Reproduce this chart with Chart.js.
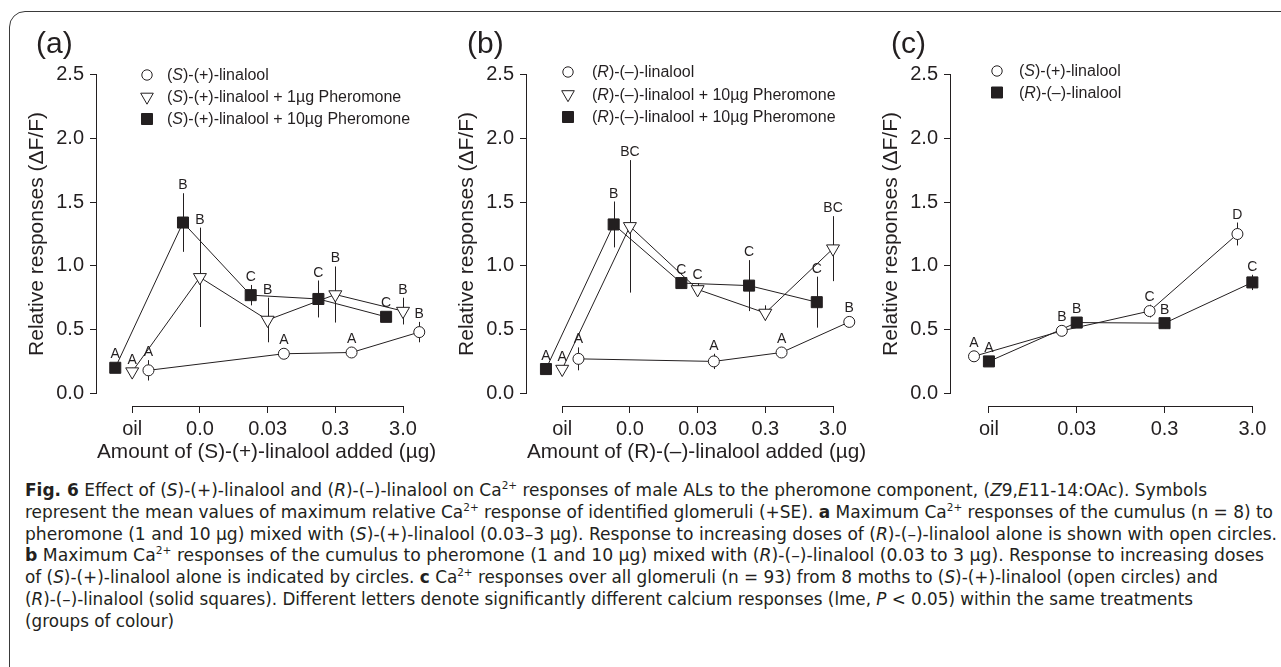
<!DOCTYPE html>
<html>
<head>
<meta charset="utf-8">
<script src="https://cdn.jsdelivr.net/npm/chart.js@4.4.0/dist/chart.umd.min.js"></script>
<style>
  body { margin: 0; background: #fff; width: 1281px; height: 667px; overflow: hidden; position: relative;
         font-family: 'Liberation Sans', Arial, sans-serif; color: #231f20; }
  .frame { position: absolute; left: 9px; top: 11px; width: 1320px; height: 720px;
           border: 1.5px solid #3a3a3a; border-radius: 16px; }
  canvas { position: absolute; top: 0; }
  .tag { position: absolute; top: 28px; font-size: 30px; line-height: 30px; }
  .caption { position: absolute; left: 25px; top: 480px; font-family: 'DejaVu Sans Condensed', 'Liberation Sans Narrow', 'Open Sans', sans-serif;
             font-size: 17px; color: #231f20; }
  .caption div { white-space: nowrap; height: 21.8px; line-height: 21.8px; transform-origin: 0 50%; width: max-content; }
  .caption sup { font-size: 10.5px; vertical-align: 7px; line-height: 0; }
</style>
</head>
<body>
<div class="frame"></div>
<canvas id="pa" width="445" height="470" style="left:0"></canvas>
<canvas id="pb" width="445" height="470" style="left:430px"></canvas>
<canvas id="pc" width="421" height="470" style="left:860px"></canvas>
<div class="tag" style="left:36px">(a)</div>
<div class="tag" style="left:467px">(b)</div>
<div class="tag" style="left:891px">(c)</div>

<div class="caption" id="caption">
  <div data-w="1182"><b>Fig. 6</b> Effect of (<i>S</i>)-(+)-linalool and (<i>R</i>)-(–)-linalool on Ca<sup>2+</sup> responses of male ALs to the pheromone component, (<i>Z</i>9,<i>E</i>11-14:OAc). Symbols</div>
  <div data-w="1248">represent the mean values of maximum relative Ca<sup>2+</sup> response of identified glomeruli (+SE). <b>a</b> Maximum Ca<sup>2+</sup> responses of the cumulus (n = 8) to</div>
  <div data-w="1252">pheromone (1 and 10 µg) mixed with (<i>S</i>)-(+)-linalool (0.03–3 µg). Response to increasing doses of (<i>R</i>)-(–)-linalool alone is shown with open circles.</div>
  <div data-w="1239"><b>b</b> Maximum Ca<sup>2+</sup> responses of the cumulus to pheromone (1 and 10 µg) mixed with (<i>R</i>)-(–)-linalool (0.03 to 3 µg). Response to increasing doses</div>
  <div data-w="1193">of (<i>S</i>)-(+)-linalool alone is indicated by circles. <b>c</b> Ca<sup>2+</sup> responses over all glomeruli (n = 93) from 8 moths to (<i>S</i>)-(+)-linalool (open circles) and</div>
  <div data-w="1168">(<i>R</i>)-(–)-linalool (solid squares). Different letters denote significantly different calcium responses (lme, <i>P</i> &lt; 0.05) within the same treatments</div>
  <div>(groups of colour)</div>
</div>

<script>
// ---- data ----
const doses5 = ['oil', '0.0', '0.03', '0.3', '3.0'];
const doses4 = ['oil', '0.03', '0.3', '3.0'];
const yTicks = [0, 0.5, 1.0, 1.5, 2.0, 2.5];

// panel (a)
const aSq      = [0.20, 1.34, 0.77, 0.74, 0.60];
const aSqSE    = [0.03, 0.23, 0.08, 0.145, 0.03];
const aSqLet   = ['A', 'B', 'C', 'C', 'C'];
const aTri     = [0.17, 0.91, 0.575, 0.775, 0.645];
const aTriSE   = [0.03, 0.39, 0.175, 0.22, 0.105];
const aTriLet  = ['A', 'B', 'B', 'B', 'B'];
const aCirc    = [0.18, null, 0.31, 0.32, 0.48];
const aCircSE  = [0.08, null, 0.02, 0.02, 0.08];
const aCircLet = ['A', '', 'A', 'A', 'B'];

// panel (b)
const bSq      = [0.19, 1.325, 0.865, 0.845, 0.715];
const bSqSE    = [0.02, 0.18, 0.04, 0.20, 0.20];
const bSqLet   = ['A', 'B', 'C', 'C', 'C'];
const bTri     = [0.19, 1.31, 0.815, 0.63, 1.135];
const bTriSE   = [0.02, 0.52, 0.05, 0.06, 0.255];
const bTriLet  = ['A', 'BC', 'C', '', 'BC'];
const bCirc    = [0.27, null, 0.25, 0.32, 0.56];
const bCircSE  = [0.09, null, 0.06, 0.03, 0.03];
const bCircLet = ['A', '', 'A', 'A', 'B'];

// panel (c)
const cCirc    = [0.29, 0.49, 0.645, 1.25];
const cCircSE  = [0.02, 0.02, 0.05, 0.09];
const cCircLet = ['A', 'B', 'C', 'D'];
const cSq      = [0.25, 0.555, 0.55, 0.87];
const cSqSE    = [0.02, 0.03, 0.04, 0.06];
const cSqLet   = ['A', 'B', 'B', 'C'];

const ink = '#231f20';
const font = 'Liberation Sans, Arial, sans-serif';

function points(vals, shift) {
    const out = [];
    vals.forEach(function(v, i) { if (v !== null) out.push({ x: i + shift, y: v }); });
    return out;
}

function series(kind, vals, se, letters, shift) {
    const style = {
        circle:   { pointStyle: 'circle',   pointRadius: 5.5, fill: '#fff', rotation: 0 },
        triangle: { pointStyle: 'triangle', pointRadius: 7.5, fill: '#fff', rotation: 180 },
        square:   { pointStyle: 'rect',     pointRadius: 7.8, fill: ink,    rotation: 0 }
    }[kind];
    return {
        data: points(vals, shift),
        vals: vals, se: se, letters: letters, shift: shift,
        showLine: true,
        borderColor: ink,
        borderWidth: 1,
        pointStyle: style.pointStyle,
        pointRadius: style.pointRadius,
        pointRotation: style.rotation,
        pointBackgroundColor: style.fill,
        pointBorderColor: ink,
        pointBorderWidth: 1,
        clip: false
    };
}

// R-style axis lines, error bars and significance letters
const rDecor = {
    id: 'rDecor',
    beforeDatasetsDraw(chart) {
        const { ctx, chartArea, scales: { x, y } } = chart;
        const last = chart.options.plugins.rDecor.cats.length - 1;
        ctx.save();
        ctx.strokeStyle = ink;
        ctx.lineWidth = 1;
        ctx.beginPath();
        ctx.moveTo(chartArea.left - 0.5, y.getPixelForValue(0));
        ctx.lineTo(chartArea.left - 0.5, y.getPixelForValue(2.5));
        ctx.moveTo(x.getPixelForValue(0), chartArea.bottom + 0.5);
        ctx.lineTo(x.getPixelForValue(last), chartArea.bottom + 0.5);
        ctx.stroke();
        chart.data.datasets.forEach(function(ds) {
            ds.vals.forEach(function(v, i) {
                if (v === null || !ds.se[i]) return;
                const px = Math.round(x.getPixelForValue(i + ds.shift)) + 0.5;
                ctx.beginPath();
                ctx.moveTo(px, y.getPixelForValue(v + ds.se[i]));
                ctx.lineTo(px, y.getPixelForValue(v - ds.se[i]));
                ctx.stroke();
            });
        });
        ctx.restore();
    },
    afterDatasetsDraw(chart) {
        const { ctx, scales: { x, y } } = chart;
        ctx.save();
        ctx.fillStyle = ink;
        ctx.font = '14px ' + font;
        ctx.textAlign = 'center';
        ctx.textBaseline = 'alphabetic';
        chart.data.datasets.forEach(function(ds) {
            const half = ds.pointStyle === 'triangle' ? ds.pointRadius / 2
                : ds.pointStyle === 'rect' ? ds.pointRadius * Math.SQRT1_2 : ds.pointRadius;
            ds.vals.forEach(function(v, i) {
                if (v === null || !ds.letters[i]) return;
                const top = Math.min(y.getPixelForValue(v + ds.se[i]), y.getPixelForValue(v) - half);
                ctx.fillText(ds.letters[i], x.getPixelForValue(i + ds.shift), top - 4);
            });
        });
        ctx.restore();
    }
};

// legend drawn inside the plot, with italic stereo descriptors
const rLegend = {
    id: 'rLegend',
    afterDraw(chart) {
        const opts = chart.options.plugins.rLegend;
        const { ctx, chartArea } = chart;
        ctx.save();
        ctx.strokeStyle = ink;
        ctx.lineWidth = 1;
        opts.rows.forEach(function(row, r) {
            const mx = chartArea.left + opts.left;
            const my = chartArea.top + opts.top + r * opts.gap;
            ctx.beginPath();
            if (row.kind === 'circle') {
                ctx.arc(mx, my, 5.2, 0, Math.PI * 2);
                ctx.fillStyle = '#fff';
            } else if (row.kind === 'triangle') {
                ctx.moveTo(mx - 6.3, my - 3.8);
                ctx.lineTo(mx + 6.3, my - 3.8);
                ctx.lineTo(mx, my + 7.2);
                ctx.closePath();
                ctx.fillStyle = '#fff';
            } else {
                ctx.rect(mx - 5.5, my - 5.5, 11, 11);
                ctx.fillStyle = ink;
            }
            ctx.fill();
            ctx.stroke();
            let tx = mx + opts.textGap;
            ctx.fillStyle = ink;
            ctx.textBaseline = 'middle';
            row.text.forEach(function(seg) {
                ctx.font = (seg[1] ? 'italic ' : '') + '16px ' + font;
                ctx.fillText(seg[0], tx, my + 1);
                tx += ctx.measureText(seg[0]).width;
            });
        });
        ctx.restore();
    }
};

function makePanel(id, cfg) {
    const tickFont = { family: font, size: 20 };
    const titleFont = { family: font, size: 21 };
    new Chart(document.getElementById(id), {
        type: 'scatter',
        data: { datasets: cfg.datasets },
        options: {
            responsive: false,
            animation: false,
            layout: { padding: { left: 0, top: 62, right: 0, bottom: 0 } },
            plugins: {
                legend: { display: false },
                tooltip: { enabled: false },
                rDecor: { cats: cfg.cats },
                rLegend: cfg.legend
            },
            scales: {
                x: {
                    type: 'linear',
                    min: cfg.xMin,
                    max: cfg.xMax,
                    afterBuildTicks: function(s) { s.ticks = cfg.cats.map(function(c, i) { return { value: i }; }); },
                    afterFit: function(s) { s.height = 64; },
                    ticks: {
                        font: tickFont, color: ink, padding: 4, autoSkip: false, maxRotation: 0,
                        callback: function(v) { return cfg.cats[v]; }
                    },
                    grid: { drawOnChartArea: false, drawTicks: true, tickLength: 7, color: ink, lineWidth: 1 },
                    border: { display: false },
                    title: { display: !!cfg.xTitle, text: cfg.xTitle, font: titleFont, color: ink, padding: { top: 0, bottom: 5 } }
                },
                y: {
                    min: -0.1,
                    max: 2.6,
                    afterBuildTicks: function(s) { s.ticks = yTicks.map(function(v) { return { value: v }; }); },
                    afterFit: function(s) { s.width = cfg.axisLeft; },
                    ticks: {
                        font: tickFont, color: ink, padding: 6,
                        callback: function(v) { return v.toFixed(1); }
                    },
                    grid: { drawOnChartArea: false, drawTicks: true, tickLength: 7, color: ink, lineWidth: 1 },
                    border: { display: false },
                    title: { display: true, text: 'Relative responses (ΔF/F)', font: titleFont, color: ink, padding: { top: cfg.titlePad, bottom: 0 } }
                }
            }
        },
        plugins: [rDecor, rLegend]
    });
}

makePanel('pa', {
    cats: doses5, xMin: -0.52, xMax: 4.49, axisLeft: 97, titlePad: 25,
    xTitle: 'Amount of (S)-(+)-linalool added (µg)',
    datasets: [
        series('circle', aCirc, aCircSE, aCircLet, 0.24),
        series('triangle', aTri, aTriSE, aTriLet, 0),
        series('square', aSq, aSqSE, aSqLet, -0.25)
    ],
    legend: { left: 50, top: 13, gap: 22, textGap: 20, rows: [
        { kind: 'circle',   text: [['(', false], ['S', true], [')-(+)-linalool', false]] },
        { kind: 'triangle', text: [['(', false], ['S', true], [')-(+)-linalool + 1µg Pheromone', false]] },
        { kind: 'square',   text: [['(', false], ['S', true], [')-(+)-linalool + 10µg Pheromone', false]] }
    ] }
});

makePanel('pb', {
    cats: doses5, xMin: -0.52, xMax: 4.49, axisLeft: 97, titlePad: 25,
    xTitle: 'Amount of (R)-(–)-linalool added (µg)',
    datasets: [
        series('circle', bCirc, bCircSE, bCircLet, 0.24),
        series('triangle', bTri, bTriSE, bTriLet, 0),
        series('square', bSq, bSqSE, bSqLet, -0.24)
    ],
    legend: { left: 41, top: 10, gap: 22.5, textGap: 24, rows: [
        { kind: 'circle',   text: [['(', false], ['R', true], [')-(–)-linalool', false]] },
        { kind: 'triangle', text: [['(', false], ['R', true], [')-(–)-linalool + 10µg Pheromone', false]] },
        { kind: 'square',   text: [['(', false], ['R', true], [')-(–)-linalool + 10µg Pheromone', false]] }
    ] }
});

makePanel('pc', {
    cats: doses4, xMin: -0.432, xMax: 3.226, axisLeft: 91, titlePad: 19,
    xTitle: '',
    datasets: [
        series('circle', cCirc, cCircSE, cCircLet, -0.17),
        series('square', cSq, cSqSE, cSqLet, 0)
    ],
    legend: { left: 46, top: 9, gap: 21.5, textGap: 22, rows: [
        { kind: 'circle', text: [['(', false], ['S', true], [')-(+)-linalool', false]] },
        { kind: 'square', text: [['(', false], ['R', true], [')-(–)-linalool', false]] }
    ] }
});

// stretch each caption line to the width it has in the figure
let lastScale = 1;
document.querySelectorAll('#caption div').forEach(function(line) {
    const w = line.getBoundingClientRect().width;
    if (line.dataset.w) lastScale = Number(line.dataset.w) / w;
    line.style.transform = 'scaleX(' + lastScale + ')';
});
</script>
</body>
</html>
